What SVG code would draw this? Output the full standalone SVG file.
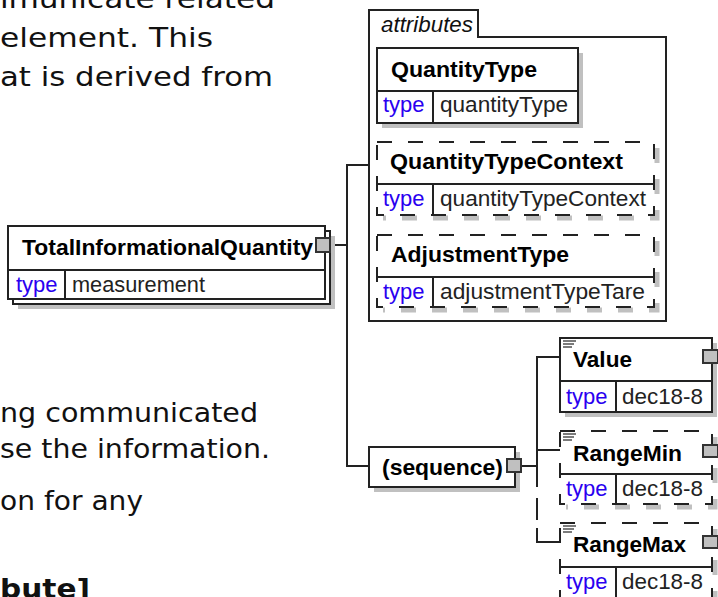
<svg xmlns="http://www.w3.org/2000/svg" width="718" height="597" viewBox="0 0 718 597">
<style>
.doc{font-family:"DejaVu Sans",Verdana,sans-serif;font-size:27px;fill:#111}
.docb{font-family:"DejaVu Sans",Verdana,sans-serif;font-size:27px;font-weight:bold;fill:#111}
.box{fill:#fff;stroke:#222;stroke-width:2}
.dbox{fill:#fff;stroke:#222;stroke-width:2;stroke-dasharray:15 16}
.sh{fill:#c0c0c0}
.dsh{fill:none;stroke:#c0c0c0;stroke-width:5;stroke-dasharray:15 16}
.ln{stroke:#222;stroke-width:2;fill:none}
.t{font-family:"Liberation Sans",Arial,sans-serif;font-size:22px;font-weight:bold;fill:#000}
.ty{font-family:"Liberation Sans",Arial,sans-serif;font-size:22px;fill:#2a00f0}
.v{font-family:"Liberation Sans",Arial,sans-serif;font-size:22px;fill:#222}
.it{font-family:"Liberation Sans",Arial,sans-serif;font-size:22px;font-style:italic;fill:#111}
.btn{fill:#c0c0c0;stroke:#333;stroke-width:2}
.icon{stroke:#333;stroke-width:1.3}
</style>
<rect width="718" height="597" fill="#fff"/>

<g id="doc-text">
<text class="doc" x="-22" y="8" textLength="297" lengthAdjust="spacingAndGlyphs">mmunicate related</text>
<text class="doc" x="0" y="47" textLength="213" lengthAdjust="spacingAndGlyphs">element. This</text>
<text class="doc" x="0" y="86" textLength="273" lengthAdjust="spacingAndGlyphs">at is derived from</text>
<text class="doc" x="0" y="422" textLength="258" lengthAdjust="spacingAndGlyphs">ng communicated</text>
<text class="doc" x="0" y="458" textLength="270" lengthAdjust="spacingAndGlyphs">se the information.</text>
<text class="doc" x="0" y="510" textLength="143" lengthAdjust="spacingAndGlyphs">on for any</text>
<text class="docb" x="0" y="598" textLength="90" lengthAdjust="spacingAndGlyphs">bute]</text>
</g>

<g id="connectors">
<line class="ln" x1="330" y1="245" x2="347" y2="245"/>
<path class="ln" d="M369,165 H347 V466 H369"/>
<line class="ln" x1="521" y1="466" x2="537" y2="466"/>
<path class="ln" d="M560,357 H537 V487"/>
<line class="ln" x1="537" y1="450" x2="560" y2="450"/>
<path class="ln" d="M537,487 V542 H560" stroke-dasharray="0 11 22 8 40"/>
</g>

<g id="TotalInformationalQuantity">
<rect class="sh" x="18" y="236" width="317" height="73"/>
<rect class="box" x="13" y="231" width="317" height="73"/>
<rect class="box" x="8" y="226" width="317" height="73"/>
<line class="ln" x1="8" y1="270" x2="325" y2="270"/>
<line class="ln" x1="65" y1="270" x2="65" y2="299"/>
<text class="t" x="22" y="255" textLength="291" lengthAdjust="spacingAndGlyphs">TotalInformationalQuantity</text>
<text class="ty" x="16" y="292">type</text>
<text class="v" x="72" y="292" textLength="133" lengthAdjust="spacingAndGlyphs">measurement</text>
<rect class="btn" x="316" y="238" width="14" height="14"/>
</g>

<g id="attributes">
<path class="ln" d="M369,321 V10 H478 V37 H666 V321 Z" fill="#fff"/>
<text class="it" x="381" y="32" textLength="92" lengthAdjust="spacingAndGlyphs">attributes</text>
</g>

<g id="QuantityType">
<rect class="sh" x="382" y="53" width="201" height="75"/>
<rect class="box" x="377" y="48" width="201" height="75"/>
<line class="ln" x1="377" y1="91" x2="578" y2="91"/>
<line class="ln" x1="433" y1="91" x2="433" y2="123"/>
<text class="t" x="391" y="77" textLength="146" lengthAdjust="spacingAndGlyphs">QuantityType</text>
<text class="ty" x="383" y="112">type</text>
<text class="v" x="440" y="112" textLength="128" lengthAdjust="spacingAndGlyphs">quantityType</text>
</g>

<g id="QuantityTypeContext">
<path class="dsh" d="M657,148 V218 H383"/>
<rect class="dbox" x="377" y="142" width="277" height="73"/>
<line class="ln" x1="377" y1="184" x2="654" y2="184"/>
<line class="ln" x1="433" y1="184" x2="433" y2="215"/>
<text class="t" x="390" y="169" textLength="233" lengthAdjust="spacingAndGlyphs">QuantityTypeContext</text>
<text class="ty" x="383" y="206">type</text>
<text class="v" x="440" y="206" textLength="206" lengthAdjust="spacingAndGlyphs">quantityTypeContext</text>
</g>

<g id="AdjustmentType">
<path class="dsh" d="M657,241 V310 H383"/>
<rect class="dbox" x="377" y="235" width="277" height="72"/>
<line class="ln" x1="377" y1="277" x2="654" y2="277"/>
<line class="ln" x1="433" y1="277" x2="433" y2="307"/>
<text class="t" x="391" y="262" textLength="178" lengthAdjust="spacingAndGlyphs">AdjustmentType</text>
<text class="ty" x="383" y="299">type</text>
<text class="v" x="440" y="299" textLength="205" lengthAdjust="spacingAndGlyphs">adjustmentTypeTare</text>
</g>

<g id="sequence">
<rect class="sh" x="374" y="452" width="146" height="40"/>
<rect class="box" x="369" y="447" width="146" height="40"/>
<text class="t" x="382" y="475" textLength="121" lengthAdjust="spacingAndGlyphs">(sequence)</text>
<rect class="btn" x="507" y="459" width="14" height="13"/>
</g>

<g id="Value">
<rect class="sh" x="565" y="343" width="152" height="74"/>
<rect class="box" x="560" y="338" width="152" height="74"/>
<line class="ln" x1="560" y1="381" x2="712" y2="381"/>
<line class="ln" x1="616" y1="381" x2="616" y2="412"/>
<line class="icon" x1="563" y1="341" x2="576" y2="341"/>
<line class="icon" x1="563" y1="344" x2="574" y2="344"/>
<line class="icon" x1="563" y1="347" x2="572" y2="347"/>
<text class="t" x="573" y="367" textLength="59" lengthAdjust="spacingAndGlyphs">Value</text>
<text class="ty" x="566" y="404">type</text>
<text class="v" x="622" y="404" textLength="81" lengthAdjust="spacingAndGlyphs">dec18-8</text>
<rect class="btn" x="703" y="350" width="15" height="13"/>
</g>

<g id="RangeMin">
<path class="dsh" d="M715,437 V507 H566"/>
<rect class="dbox" x="560" y="431" width="152" height="73"/>
<line class="ln" x1="560" y1="474" x2="712" y2="474"/>
<line class="ln" x1="616" y1="474" x2="616" y2="504"/>
<line class="icon" x1="563" y1="434" x2="576" y2="434"/>
<line class="icon" x1="563" y1="437" x2="574" y2="437"/>
<line class="icon" x1="563" y1="440" x2="572" y2="440"/>
<text class="t" x="573" y="461" textLength="109" lengthAdjust="spacingAndGlyphs">RangeMin</text>
<text class="ty" x="566" y="496">type</text>
<text class="v" x="622" y="496" textLength="81" lengthAdjust="spacingAndGlyphs">dec18-8</text>
<rect class="btn" x="703" y="445" width="15" height="12"/>
</g>

<g id="RangeMax">
<path class="dsh" d="M715,529 V600 H566"/>
<rect class="dbox" x="560" y="523" width="152" height="75"/>
<line class="ln" x1="560" y1="567" x2="712" y2="567"/>
<line class="ln" x1="616" y1="567" x2="616" y2="598"/>
<line class="icon" x1="563" y1="526" x2="576" y2="526"/>
<line class="icon" x1="563" y1="529" x2="574" y2="529"/>
<line class="icon" x1="563" y1="532" x2="572" y2="532"/>
<text class="t" x="573" y="552" textLength="113" lengthAdjust="spacingAndGlyphs">RangeMax</text>
<text class="ty" x="566" y="589">type</text>
<text class="v" x="622" y="589" textLength="81" lengthAdjust="spacingAndGlyphs">dec18-8</text>
<rect class="btn" x="703" y="536" width="15" height="12"/>
</g>
</svg>
